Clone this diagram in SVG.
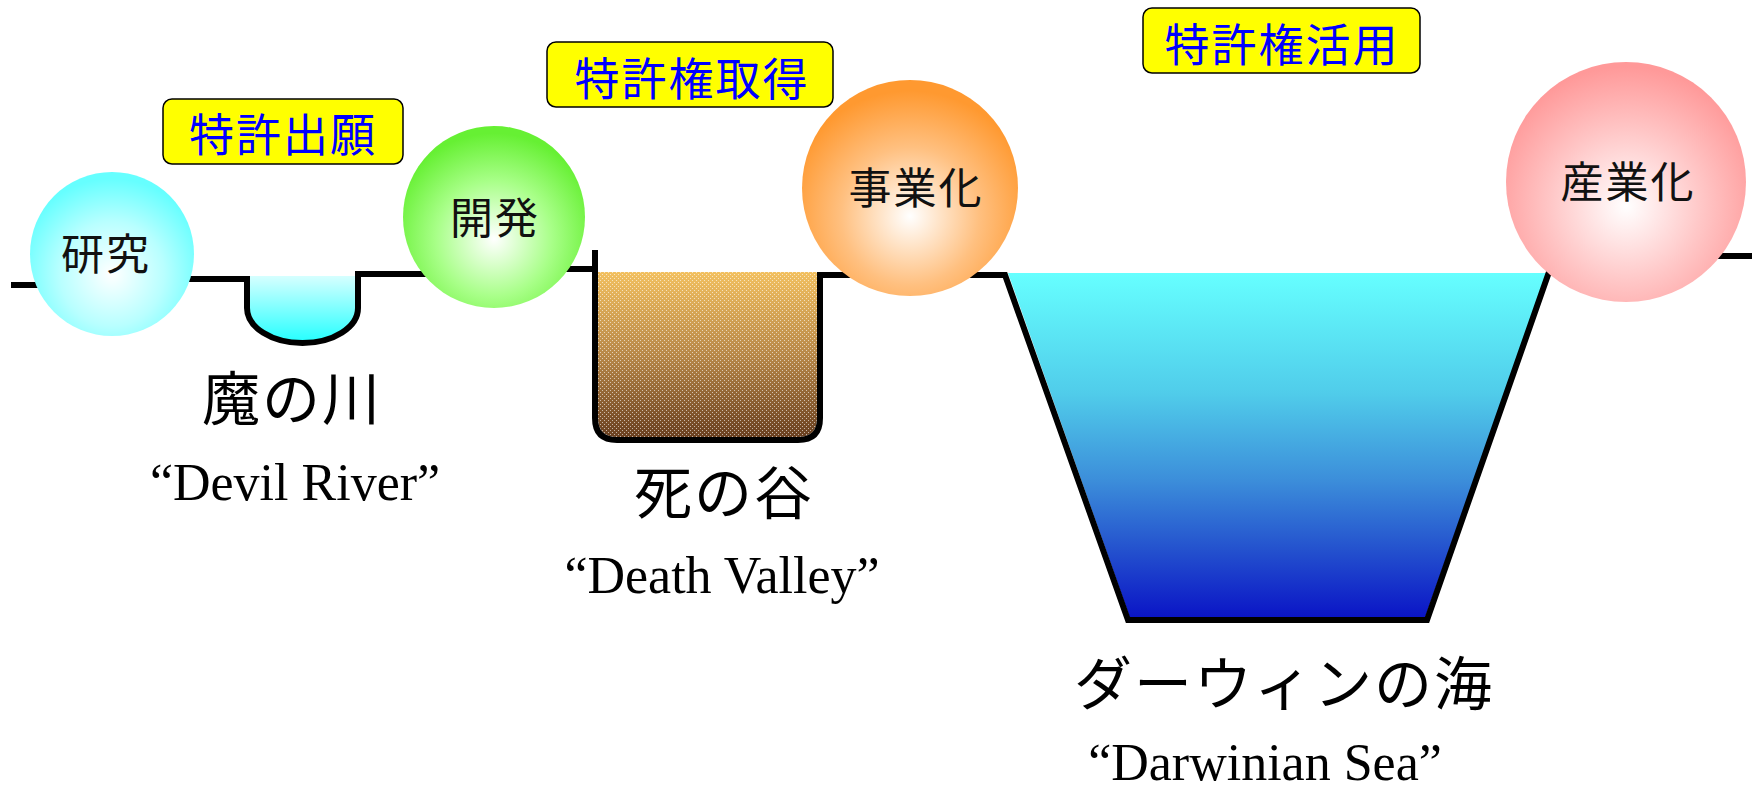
<svg xmlns="http://www.w3.org/2000/svg" width="1752" height="788" viewBox="0 0 1752 788">
  <style>
    .ground { fill: none; stroke: #000; stroke-width: 6; stroke-linejoin: miter; }
    .tag { fill: #FFFF00; stroke: #000; stroke-width: 1.5; }
    .tagtext { font-family: "Noto Sans CJK JP", sans-serif; font-size: 45px; fill: #0000FF; text-anchor: middle; dominant-baseline: central; letter-spacing: 2px; }
    .nodetext { font-family: "Noto Sans CJK JP", sans-serif; font-size: 43px; fill: #111; text-anchor: middle; dominant-baseline: central; letter-spacing: 2px; }
    .bigjp { font-family: "Noto Sans CJK JP", sans-serif; font-size: 58px; fill: #000; text-anchor: middle; dominant-baseline: central; letter-spacing: 2px; }
    .en { font-family: "Liberation Serif", "Times New Roman", serif; font-size: 52px; fill: #000; text-anchor: middle; }
  </style>
  <defs>
    <radialGradient id="gCyan" cx="50%" cy="62%" r="58%">
      <stop offset="0" stop-color="#FFFFFF"/>
      <stop offset="0.55" stop-color="#B8FFFF"/>
      <stop offset="1" stop-color="#66FFFF"/>
    </radialGradient>
    <radialGradient id="gGreen" cx="50%" cy="62%" r="58%">
      <stop offset="0" stop-color="#FFFFFF"/>
      <stop offset="0.55" stop-color="#A8FF88"/>
      <stop offset="1" stop-color="#66F033"/>
    </radialGradient>
    <radialGradient id="gOrange" cx="50%" cy="63%" r="58%">
      <stop offset="0" stop-color="#FFFFFF"/>
      <stop offset="0.55" stop-color="#FFC080"/>
      <stop offset="1" stop-color="#FF9930"/>
    </radialGradient>
    <radialGradient id="gPink" cx="50%" cy="60%" r="58%">
      <stop offset="0" stop-color="#FFFFFF"/>
      <stop offset="0.55" stop-color="#FFC6C6"/>
      <stop offset="1" stop-color="#FF9999"/>
    </radialGradient>
    <linearGradient id="gRiver" x1="0" y1="0" x2="0" y2="1">
      <stop offset="0" stop-color="#D6FFFF"/>
      <stop offset="1" stop-color="#22FFFF"/>
    </linearGradient>
    <linearGradient id="gValley" x1="0" y1="0" x2="0" y2="1">
      <stop offset="0" stop-color="#F2C060"/>
      <stop offset="0.5" stop-color="#B88848"/>
      <stop offset="1" stop-color="#6A4020"/>
    </linearGradient>
    <pattern id="pDots" width="4" height="4" patternUnits="userSpaceOnUse">
      <rect x="0" y="0" width="1" height="1" fill="#FFFFFF" opacity="0.6"/>
      <rect x="2" y="2" width="1" height="1" fill="#FFFFFF" opacity="0.6"/>
    </pattern>
    <linearGradient id="gSea" x1="0" y1="0" x2="0" y2="1">
      <stop offset="0" stop-color="#66FFFF"/>
      <stop offset="0.35" stop-color="#50CCEA"/>
      <stop offset="0.6" stop-color="#3C8EDA"/>
      <stop offset="0.8" stop-color="#2452CE"/>
      <stop offset="1" stop-color="#0A14C6"/>
    </linearGradient>
  </defs>

  <g id="terrain">
    <path id="devil-river-water" d="M247,276 H358 V308 A55.5 35 0 0 1 247 308 Z" fill="url(#gRiver)"/>
    <path id="death-valley-fill" d="M598,272 H817 V418 Q817,437 798,437 H617 Q598,437 598,418 Z" fill="url(#gValley)"/>
    <path id="death-valley-dots" d="M598,272 H817 V418 Q817,437 798,437 H617 Q598,437 598,418 Z" fill="url(#pDots)"/>
    <polygon id="darwinian-sea-water" points="1008,273 1547,273 1425,618 1130,618" fill="url(#gSea)"/>
  </g>

  <g id="connectors">
    <path class="ground" d="M11,285 H110"/>
    <path class="ground" d="M120,279 H247 V308 A55.5 35 0 0 0 358 308 V274 H494"/>
    <path class="ground" d="M494,269 H595"/>
    <path class="ground" d="M595,250 V418 Q595,440 617,440 H798 Q820,440 820,418 V275 H1005 L1128,620 H1427 L1549,272"/>
    <path class="ground" d="M1626,256 H1752"/>
  </g>

  <g id="tag-patent-application">
    <rect class="tag" x="163" y="99" width="240" height="65" rx="9"/>
    <text class="tagtext" x="283" y="132">特許出願</text>
  </g>
  <g id="tag-patent-grant">
    <rect class="tag" x="547" y="42" width="286" height="65" rx="9"/>
    <text class="tagtext" x="692" y="76">特許権取得</text>
  </g>
  <g id="tag-patent-use">
    <rect class="tag" x="1143" y="8" width="277" height="65" rx="9"/>
    <text class="tagtext" x="1282" y="42">特許権活用</text>
  </g>

  <g id="node-research">
    <circle cx="112" cy="254" r="82" fill="url(#gCyan)"/>
    <text class="nodetext" x="106" y="251">研究</text>
  </g>
  <g id="node-development">
    <circle cx="494" cy="217" r="91" fill="url(#gGreen)"/>
    <text class="nodetext" x="495" y="215">開発</text>
  </g>
  <g id="node-commercialization">
    <circle cx="910" cy="188" r="108" fill="url(#gOrange)"/>
    <text class="nodetext" x="916" y="185">事業化</text>
  </g>
  <g id="node-industrialization">
    <circle cx="1626" cy="182" r="120" fill="url(#gPink)"/>
    <text class="nodetext" x="1628" y="179">産業化</text>
  </g>

  <g id="label-devil-river">
    <text class="bigjp" x="292" y="395">魔の川</text>
    <text class="en" x="295" y="500">“Devil River”</text>
  </g>
  <g id="label-death-valley">
    <text class="bigjp" x="724" y="489">死の谷</text>
    <text class="en" x="722" y="593">“Death Valley”</text>
  </g>
  <g id="label-darwinian-sea">
    <text class="bigjp" x="1284" y="680">ダーウィンの海</text>
    <text class="en" x="1265" y="780">“Darwinian Sea”</text>
  </g>
</svg>
